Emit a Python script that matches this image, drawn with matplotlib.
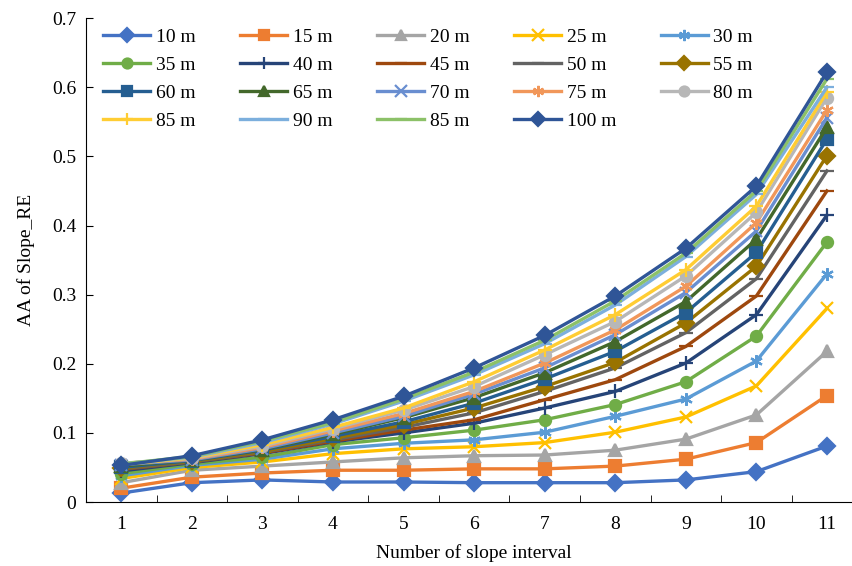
import matplotlib.pyplot as plt

plt.rcParams['font.family'] = ['Liberation Serif', 'DejaVu Serif']

x = [1, 2, 3, 4, 5, 6, 7, 8, 9, 10, 11]

labels = ['10 m', '15 m', '20 m', '25 m', '30 m', '35 m', '40 m', '45 m', '50 m', '55 m',
          '60 m', '65 m', '70 m', '75 m', '80 m', '85 m', '90 m', '85 m', '100 m']

s10 = [0.013, 0.028, 0.032, 0.029, 0.029, 0.028, 0.028, 0.028, 0.032, 0.044, 0.081]
s15 = [0.020, 0.036, 0.042, 0.046, 0.046, 0.048, 0.048, 0.052, 0.062, 0.086, 0.154]
s20 = [0.028, 0.046, 0.052, 0.058, 0.064, 0.067, 0.068, 0.075, 0.091, 0.126, 0.218]
s25 = [0.034, 0.050, 0.058, 0.070, 0.077, 0.080, 0.086, 0.101, 0.123, 0.168, 0.280]
s30 = [0.038, 0.053, 0.062, 0.077, 0.085, 0.090, 0.101, 0.124, 0.149, 0.204, 0.330]
s35 = [0.041, 0.055, 0.065, 0.083, 0.093, 0.104, 0.119, 0.141, 0.174, 0.240, 0.376]
s40 = [0.045, 0.057, 0.070, 0.087, 0.100, 0.114, 0.136, 0.160, 0.201, 0.271, 0.415]
s45 = [0.047, 0.058, 0.071, 0.088, 0.104, 0.119, 0.148, 0.177, 0.225, 0.298, 0.450]
s50 = [0.048, 0.058, 0.072, 0.090, 0.108, 0.129, 0.160, 0.194, 0.245, 0.323, 0.479]
s55 = [0.049, 0.059, 0.073, 0.092, 0.112, 0.136, 0.167, 0.202, 0.259, 0.341, 0.501]
s60 = [0.050, 0.060, 0.075, 0.095, 0.116, 0.143, 0.178, 0.218, 0.274, 0.361, 0.525]
s65 = [0.052, 0.061, 0.076, 0.098, 0.122, 0.151, 0.187, 0.232, 0.290, 0.380, 0.542]
s70 = [0.054, 0.061, 0.077, 0.100, 0.124, 0.156, 0.194, 0.242, 0.303, 0.392, 0.556]
s75 = [0.056, 0.062, 0.079, 0.103, 0.128, 0.160, 0.201, 0.249, 0.312, 0.404, 0.567]
s80 = [0.056, 0.063, 0.081, 0.106, 0.133, 0.167, 0.213, 0.261, 0.327, 0.419, 0.585]
s85 = [0.054, 0.064, 0.083, 0.108, 0.136, 0.174, 0.220, 0.271, 0.336, 0.428, 0.593]
s90 = [0.055, 0.065, 0.086, 0.113, 0.146, 0.184, 0.229, 0.285, 0.355, 0.445, 0.600]
s85b = [0.055, 0.066, 0.088, 0.115, 0.149, 0.188, 0.234, 0.291, 0.360, 0.450, 0.612]
s100 = [0.053, 0.067, 0.090, 0.119, 0.153, 0.194, 0.241, 0.298, 0.367, 0.457, 0.622]

series = [s10, s15, s20, s25, s30, s35, s40, s45, s50, s55,
          s60, s65, s70, s75, s80, s85, s90, s85b, s100]

colors = ['#4472C4', '#ED7D31', '#A5A5A5', '#FFC000', '#5B9BD5', '#70AD47',
          '#264478', '#9E480E', '#636363', '#997300', '#255E91', '#43682B',
          '#698ED0', '#F1975A', '#B7B7B7', '#FFCD33', '#7CAFDD', '#8CC168', '#2F5597']
asterisk = (6, 2, 0)
markers = ['D', 's', '^', 'x', asterisk, 'o', '+', '_', '_',
           'D', 's', '^', 'x', asterisk, 'o', '+', '_', '_', 'D']
sizes = [8, 8, 8, 9, 9, 8, 10, 10, 10, 8, 8, 8, 9, 9, 8, 10, 10, 10, 8]

fig = plt.figure(figsize=(8.53, 5.66), dpi=100)
ax = fig.add_axes([0.1008, 0.113, 0.91, 0.855])

lines = []
for ys, lab, c, m, ms in zip(series, labels, colors, markers, sizes):
    ln, = ax.plot(x, ys, color=c, linewidth=2.4, marker=m, markersize=ms,
                  markeredgewidth=1.6, label=lab)
    lines.append(ln)

ax.set_xlim(0.5, 11.5)
ax.set_ylim(0, 0.7)
ax.set_xticks(x)
ax.set_xticks([v + 0.5 for v in x[:-1]], minor=True)
ax.tick_params(axis='x', which='major', length=0, labelsize=14, pad=10)
ax.tick_params(axis='x', which='minor', length=5, direction='in')
ax.tick_params(axis='y', direction='in', length=5, labelsize=14, pad=7)
ax.set_yticks([0, 0.1, 0.2, 0.3, 0.4, 0.5, 0.6, 0.7])
ax.set_yticklabels(['0', '0.1', '0.2', '0.3', '0.4', '0.5', '0.6', '0.7'])
for s in ['top', 'right']:
    ax.spines[s].set_visible(False)

ax.set_xlabel('Number of slope interval', fontsize=14, labelpad=8)
ax.set_ylabel('AA of Slope_RE', fontsize=14, labelpad=12)

# legend reads row by row, matplotlib fills column by column
order = [0, 5, 10, 15, 1, 6, 11, 16, 2, 7, 12, 17, 3, 8, 13, 18, 4, 9, 14]
ax.legend([lines[i] for i in order], [labels[i] for i in order],
          ncol=5, loc='upper left', bbox_to_anchor=(0.0, 1.015), frameon=False,
          fontsize=14, handlelength=2.4, columnspacing=2.3, labelspacing=0.53,
          handletextpad=0.3, markerscale=0.9)

fig.savefig('out.png', dpi=100)
